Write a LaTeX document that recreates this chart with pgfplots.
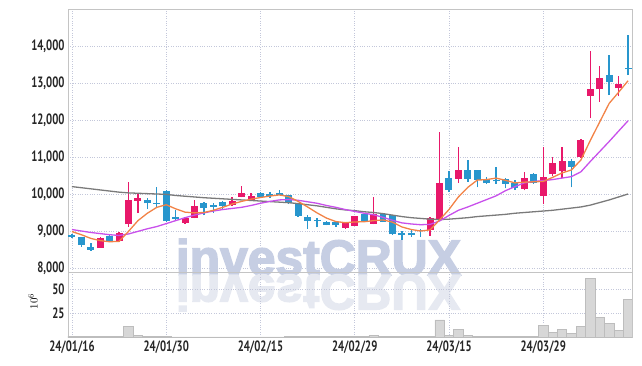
\documentclass[border=0pt]{standalone}
\usepackage{pgfplots}
\pgfplotsset{compat=1.18}
\usepackage{pgfplotstable}
\usepackage{fontspec}
\newfontfamily\tickfont[FakeStretch=0.72, UprightFont={* Bold}]{PT Sans}
\newfontfamily\wmfont[UprightFont={* Bold}, FakeBold=3]{Liberation Sans}
\definecolor{redc}{HTML}{E8186A}
\definecolor{bluec}{HTML}{2896CD}
\definecolor{orc}{HTML}{F28246}
\definecolor{puc}{HTML}{C850EB}
\definecolor{grc}{HTML}{7A7A7A}
\definecolor{gridc}{HTML}{C3C7DA}
\definecolor{axc}{HTML}{C4C4C4}
\definecolor{volf}{HTML}{D7D7D7}
\definecolor{vold}{HTML}{BDBDBD}
\definecolor{wmc}{HTML}{C6CEE3}
\definecolor{wmr}{HTML}{E6E9F1}

\pgfplotstableread{
i o h l c
3 8550 8850 8545 8810
5 8720 8960 8710 8940
6 9180 10316 9120 9840
7 9820 10000 9480 9890
12 9210 9380 9200 9360
13 9360 9840 9340 9680
17 9700 9920 9680 9820
18 9930 10220 9910 10040
19 9820 10030 9810 9950
29 9090 9240 9060 9225
30 9145 9410 9140 9400
32 9190 9930 9180 9470
38 9030 9390 8870 9350
39 9320 11685 9290 10310
41 10415 11280 10310 10650
48 10130 10600 10100 10425
50 9955 11260 9720 10450
51 10550 11000 10500 10840
52 10630 11260 10440 10880
54 11010 11500 10980 11470
55 12660 13865 12045 12840
56 12830 13450 12500 13145
58 12860 13200 12640 12965
}\upT

\pgfplotstableread{
i o h l c
0 8880 8910 8820 8850
1 8830 8840 8580 8620
2 8570 8680 8470 8500
4 8870 8930 8690 8730
8 9840 9890 9600 9750
9 9770 10190 9640 9740
10 10080 10110 9240 9270
11 9380 9560 9300 9330
14 9750 9790 9420 9630
15 9700 9750 9500 9660
16 9780 9820 9590 9680
20 10040 10060 9920 9930
21 10000 10060 9890 9950
22 10030 10120 9960 9970
23 9970 9980 9740 9750
24 9750 9760 9380 9414
25 9380 9420 9060 9280
26 9300 9350 9100 9270
27 9245 9280 9150 9170
28 9245 9260 9120 9150
31 9460 9470 9240 9250
33 9460 9480 9240 9250
34 9425 9440 8900 8910
35 8940 9000 8760 8885
36 8940 9030 8850 8885
37 9020 9060 8850 8990
40 10425 10620 10060 10110
42 10650 10920 10330 10415
43 10650 10650 10180 10380
44 10400 10460 10270 10290
45 10370 10720 10270 10340
46 10400 10420 10150 10280
47 10290 10380 10110 10155
49 10530 10560 10280 10290
53 10880 10950 10180 10740
57 13215 13755 12675 13020
59 13400 14300 13210 13370
}\downT

\pgfplotstableread{
i a b g
0 8985 9040 10200
1 8900 9000 10170
2 8800 8960 10140
3 8740 8930 10110
4 8710 8900 10080
5 8720 8880 10050
6 8990 8920 10030
7 9280 8990 10020
8 9480 9060 10010
9 9640 9120 10000
10 9710 9200 9990
11 9600 9280 9960
12 9510 9360 9940
13 9490 9430 9920
14 9500 9490 9900
15 9560 9540 9885
16 9640 9580 9870
17 9730 9610 9855
18 9800 9640 9840
19 9860 9690 9825
20 9905 9750 9810
21 9945 9800 9795
22 9975 9840 9780
23 9930 9850 9765
24 9800 9830 9740
25 9650 9790 9710
26 9490 9750 9680
27 9350 9690 9640
28 9255 9640 9600
29 9225 9580 9570
30 9245 9530 9550
31 9250 9480 9520
32 9280 9440 9500
33 9300 9370 9470
34 9240 9290 9430
35 9110 9220 9390
36 9040 9190 9360
37 9000 9170 9340
38 9030 9180 9320
39 9300 9270 9310
40 9580 9420 9320
41 9920 9560 9340
42 10180 9650 9360
43 10375 9750 9390
44 10390 9850 9410
45 10430 9950 9430
46 10370 10090 9450
47 10300 10200 9480
48 10320 10300 9500
49 10330 10340 9520
50 10340 10360 9540
51 10450 10390 9560
52 10570 10430 9590
53 10650 10470 9620
54 10920 10600 9650
55 11450 10880 9700
56 11950 11150 9770
57 12450 11420 9840
58 12750 11700 9920
59 13060 11980 10000
}\maT

\pgfplotstableread{
i v
0 0.3
1 0.3
2 0.3
3 0.3
4 0.3
5 0.3
6 11.5
7 1.8
8 1
9 0.8
10 0.6
11 0.2
12 0.2
13 0.2
14 0.2
15 0.2
16 0.2
17 0.2
18 0.2
19 0.2
20 0.2
21 0.2
22 0.2
23 1
24 1
25 0.8
26 0.3
27 0.3
28 0.3
29 0.3
30 0.3
31 0.3
32 1.8
33 1
34 1
35 0.3
36 0.3
37 0.3
38 1
39 17.8
40 1.8
41 8
42 2
43 0.5
44 0.5
45 0.5
46 0.5
47 0.5
48 0.5
49 0.5
50 12
51 5
52 8
53 4
54 11
55 61
56 20.5
57 14
58 6.5
59 39.5
}\volT

\pgfplotsset{
  common/.style={
    scale only axis, width=564bp,
    xmin=-0.42, xmax=59.42,
    xtick={0,10,...,50},
    grid=major,
    grid style={dotted, gridc, line width=0.8pt},
    axis line style={draw=axc, line width=0.8pt},
    major tick length=0pt,
    scaled ticks=false,
    tick label style={font=\tickfont\fontsize{15}{16}\selectfont, text=black!85},
    /pgf/number format/assume math mode=true,
    /pgf/number format/fixed,
    /pgf/number format/1000 sep={,},
  },
  wick/.style={draw=none, error bars/.cd, y dir=plus, y explicit, error mark=none,
    error bar style={draw=#1, line width=1.4pt}},
  body/.style={draw=none, error bars/.cd, y dir=plus, y explicit, error mark=none,
    error bar style={draw=#1, line width=7pt}},
}

\begin{document}
\begin{tikzpicture}
\begin{axis}[common, name=top, height=263bp,
  ymin=7892, ymax=15000,
  ytick={8000,9000,...,14000},
  xticklabels={},
  clip=false,
]
\node[anchor=base, inner sep=0pt, text=wmc, font=\wmfont\fontsize{50}{50}\selectfont] at (rel axis cs:0.444,-0.0114) {investCRUX};
\node[anchor=base, inner sep=0pt, yscale=-1, text=wmr, font=\wmfont\fontsize{50}{50}\selectfont] at (rel axis cs:0.444,-0.0114) {investCRUX};
\addplot[wick=redc] table[x=i, y=l, y error plus expr={\thisrow{h}-\thisrow{l}}] {\upT};
\addplot[wick=bluec] table[x=i, y=l, y error plus expr={\thisrow{h}-\thisrow{l}}] {\downT};
\addplot[body=redc] table[x=i, y expr={min(\thisrow{o},\thisrow{c})}, y error plus expr={max(abs(\thisrow{c}-\thisrow{o}),28)}] {\upT};
\addplot[body=bluec] table[x=i, y expr={min(\thisrow{o},\thisrow{c})}, y error plus expr={max(abs(\thisrow{c}-\thisrow{o}),28)}] {\downT};
\addplot[grc, line width=1.3pt, mark=none] table[x=i, y=g] {\maT};
\addplot[puc, line width=1.3pt, mark=none] table[x=i, y=b] {\maT};
\addplot[orc, line width=1.3pt, mark=none] table[x=i, y=a] {\maT};
\end{axis}

\begin{axis}[common, name=bot, at={(top.south west)}, anchor=north west, height=65bp,
  ymin=0, ymax=68,
  ytick={25,50},
  xticklabels={24/01/16,24/01/30,24/02/15,24/02/29,24/03/15,24/03/29},
  ylabel={$10^6$},
  ylabel style={at={(axis description cs:-0.062,0.55)}, anchor=center, font=\fontsize{11}{12}\selectfont},
]
\addplot[ybar, bar width=1, bar shift=0pt, fill=volf, draw=vold, line width=0.6pt] table[x=i, y=v] {\volT};
\end{axis}
\pgfresetboundingbox
\path[use as bounding box] (top.north west) ++(-68bp,9bp) rectangle ++(642bp,-366bp);
\end{tikzpicture}
\end{document}
